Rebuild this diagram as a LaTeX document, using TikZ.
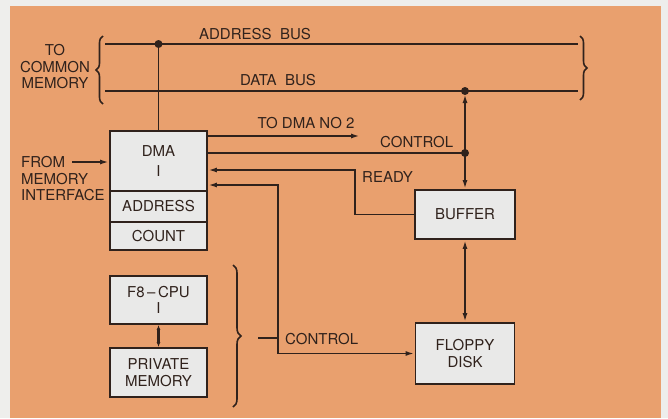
\documentclass[tikz,border=0pt]{standalone}
\usepackage{fontspec}
\setmainfont{TeX Gyre Heros}
\usetikzlibrary{arrows.meta,decorations.pathreplacing,calc}
\definecolor{bgorange}{RGB}{233,160,110}
\definecolor{outergray}{RGB}{238,238,236}
\definecolor{boxfill}{RGB}{233,233,232}
\definecolor{ink}{RGB}{48,34,28}
\begin{document}
\begin{tikzpicture}[x=1pt,y=-1pt,
  every node/.style={font=\fontsize{15}{16.5}\selectfont, text=ink},
  wire/.style={draw=ink, line width=1.9pt},
  arr/.style={-{Latex[length=9pt,width=5pt]}},
  darr/.style={{Latex[length=9pt,width=5pt]}-{Latex[length=9pt,width=5pt]}},
  blk/.style={draw=ink, line width=1.9pt, fill=boxfill, align=center, inner sep=0pt},
  lbl/.style={inner sep=0pt},
  brc/.style={draw=ink, line width=1.6pt, decorate, decoration={brace, amplitude=7pt}},
  dotc/.style={fill=ink}
]
\fill[outergray] (0,0) rectangle (668,418);
\fill[bgorange] (10,6) rectangle (661,418);
\useasboundingbox (0,0) rectangle (668,418);

% boxes
\node[blk, minimum width=97pt, minimum height=60pt] (dma) at (158.5,161) {DMA\\[3.5pt]I};
\node[blk, minimum width=97pt, minimum height=31pt] (addr) at (158.5,206.5) {ADDRESS};
\node[blk, minimum width=97pt, minimum height=28pt] (count) at (158.5,236) {COUNT};
\node[blk, minimum width=100pt, minimum height=49pt] (buffer) at (465,214.5) {BUFFER};
\node[blk, minimum width=99pt, minimum height=61pt] (floppy) at (465,353.5) {FLOPPY\\DISK};
\node[blk, minimum width=97pt, minimum height=48pt] (cpu) at (158.5,300) {F8\,–\,CPU\\I};
\node[blk, minimum width=97pt, minimum height=49pt] (pmem) at (158.5,372.5) {PRIVATE\\MEMORY};

% coordinates
\coordinate (abl) at (105,44);
\coordinate (abr) at (578,44);
\coordinate (abdot) at (158.5,44);
\coordinate (dbl) at (105,91);
\coordinate (dbr) at (578,91);
\coordinate (dbdot) at (465,91);
\coordinate (ctrldot) at (465,153);
\coordinate (dma2end) at (360,136);
\coordinate (readyturn) at (355,170);
\coordinate (ctrltop) at (278,185);
\coordinate (ctrlbot) at (278,353.5);
\coordinate (cpubr) at (258,338);
\coordinate (fromstart) at (72,162);

% buses
\draw[wire] (abl) -- (abr);
\draw[wire] (dbl) -- (dbr);
\draw[wire] (abdot) -- (dma.north);
\fill[dotc] (abdot) circle (4pt);

% labels
\node[lbl] (abus) at (255,34) {ADDRESS\ \ BUS};
\node[lbl] (dbus) at (278,80) {DATA\ \ BUS};
\node[lbl, align=center] (tocm) at (55,67) {TO\\COMMON\\MEMORY};
\node[lbl, align=left, anchor=west] (fromm) at (21,179) {FROM\\MEMORY\\INTERFACE};
\node[lbl] (todma) at (306,123) {TO\ DMA\ NO\ 2};
\node[lbl, anchor=west] (ctrl1) at (380,142) {CONTROL};
\node[lbl, anchor=west] (ready) at (362,177) {READY};
\node[lbl, anchor=west] (ctrl2) at (285,339) {CONTROL};

% braces
\draw[brc] (103,104) -- (103,36);
\draw[brc] (580,36) -- (580,100);
\draw[brc, decoration={brace, amplitude=8pt}] (233,265) -- (233,407);

% connectors
\draw[wire, arr] (fromstart) -- (dma.west |- fromstart);
\draw[wire, arr] (dma.east |- dma2end) -- (dma2end);
\draw[wire] (dma.east |- ctrldot) -- (ctrldot);
\draw[wire, darr, shorten >=3pt] (buffer.north) -- (dbdot);
\fill[dotc] (dbdot) circle (4pt);
\fill[dotc] (ctrldot) circle (4pt);
\draw[wire, arr] (buffer.west) -| (readyturn) -- (dma.east |- readyturn);
\draw[wire, darr] (dma.east |- ctrltop) -- (ctrltop) -- (ctrlbot) -- (floppy.west);
\draw[wire] (cpubr) -- (cpubr -| ctrltop);
\draw[wire, darr] (buffer.south) -- (floppy.north);
\draw[wire, line width=2.4pt, {Latex[length=5pt,width=4pt]}-{Latex[length=5pt,width=4pt]}] (cpu.south) -- (pmem.north);
\end{tikzpicture}
\end{document}
